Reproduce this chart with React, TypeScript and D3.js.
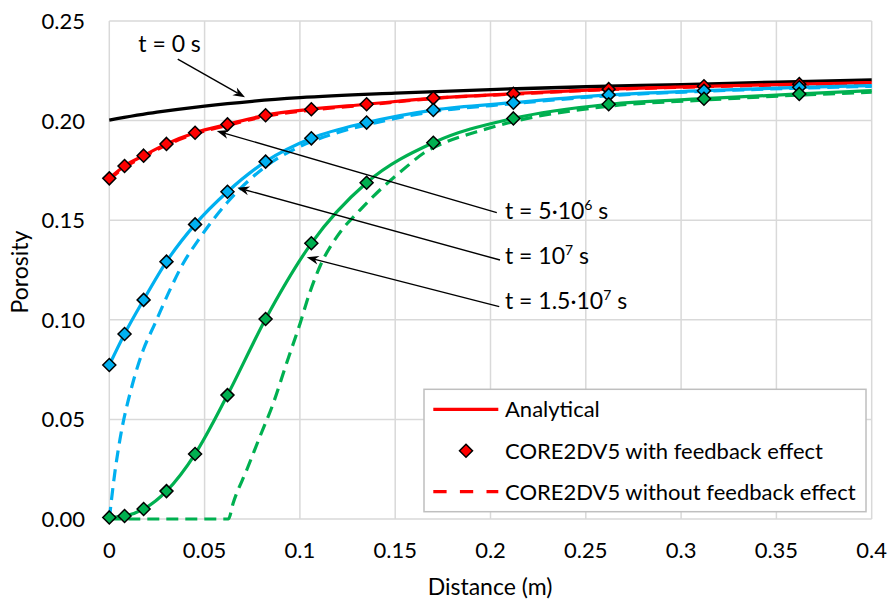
import React from 'react';
import * as d3 from 'd3';

const W = 889;
const H = 606;

const xTicks = [0, 0.05, 0.1, 0.15, 0.2, 0.25, 0.3, 0.35, 0.4];
const yTicks = [0, 0.05, 0.1, 0.15, 0.2, 0.25];

// t = 0 s initial porosity profile
const initX = [0, 0.025, 0.05, 0.075, 0.1, 0.15, 0.2, 0.25, 0.3, 0.35, 0.4];
const initY = [0.2003, 0.2042, 0.2073, 0.2097, 0.2115, 0.2138, 0.2156, 0.217, 0.2181, 0.2193, 0.2204];

// CORE2DV5 with feedback effect (markers) and analytical (solid lines)
const simX = [0, 0.008, 0.018, 0.03, 0.045, 0.062, 0.082, 0.106, 0.135, 0.17, 0.212, 0.262, 0.312, 0.362];
const redSim = [0.171, 0.1772, 0.1824, 0.1883, 0.1939, 0.1981, 0.2027, 0.2057, 0.2082, 0.2113, 0.2135, 0.2158, 0.2172, 0.2183];
const blueSim = [0.0773, 0.0929, 0.11, 0.1292, 0.1479, 0.1643, 0.1794, 0.1911, 0.199, 0.2053, 0.209, 0.2129, 0.215, 0.2167];
const greenSim = [0.0008, 0.0015, 0.005, 0.014, 0.0326, 0.0622, 0.1004, 0.1384, 0.1688, 0.1889, 0.2011, 0.2082, 0.211, 0.2134];

const anaX = [...simX, 0.4];
const redAna = [...redSim, 0.2191];
const blueAna = [...blueSim, 0.2176];
const greenAna = [...greenSim, 0.215];

// CORE2DV5 without feedback effect (dashed)
const redNoFbX = [0, 0.008, 0.018, 0.03, 0.045, 0.062, 0.082, 0.106, 0.135, 0.17, 0.212, 0.262, 0.312, 0.362, 0.4];
const redNoFbY = [0.1705, 0.1766, 0.1818, 0.1877, 0.1933, 0.1976, 0.2022, 0.2053, 0.2079, 0.2111, 0.2133, 0.2156, 0.217, 0.2181, 0.2189];
const blueNoFbX = [0, 0.003, 0.0056, 0.0118, 0.0178, 0.024, 0.0318, 0.0388, 0.0467, 0.062, 0.08, 0.1, 0.12, 0.14, 0.17, 0.212, 0.262, 0.312, 0.362, 0.4];
const blueNoFbY = [0, 0.024, 0.04, 0.0664, 0.0848, 0.0982, 0.115, 0.1284, 0.14, 0.159, 0.1755, 0.187, 0.194, 0.199, 0.2045, 0.2085, 0.2125, 0.2147, 0.2163, 0.2172];
const greenNoFbX = [0, 0.0625, 0.065, 0.0721, 0.079, 0.086, 0.093, 0.1001, 0.1053, 0.1106, 0.12, 0.1315, 0.1438, 0.156, 0.1648, 0.177, 0.1928, 0.212, 0.262, 0.312, 0.362, 0.4];
const greenNoFbY = [0, 0, 0.008, 0.0246, 0.0413, 0.058, 0.0782, 0.0982, 0.114, 0.127, 0.1425, 0.1551, 0.1668, 0.1769, 0.1836, 0.1894, 0.1944, 0.1995, 0.2072, 0.2103, 0.2128, 0.2143];

const legendLabels = ['Analytical', 'CORE2DV5 with feedback effect', 'CORE2DV5 without feedback effect'];

const RED = '#FF0000';
const BLUE = '#00B0F0';
const GREEN = '#00B050';
const GRID = '#D9D9D9';
const FONT = 'Lato, Carlito, Calibri, sans-serif';
const FS = 22;

const x = d3.scaleLinear().domain([0, 0.4]).range([109.3, 871.7]);
const y = d3.scaleLinear().domain([0, 0.25]).range([519, 21]);

const zip = (xs: number[], ys: number[]) => xs.map((v, i) => [v, ys[i]] as [number, number]);

const line = d3
  .line<[number, number]>()
  .x((d) => x(d[0]))
  .y((d) => y(d[1]))
  .curve(d3.curveMonotoneX);

// annotations in data coordinates: tail, tip, label anchor
type Ann = { tail: [number, number]; tip: [number, number]; label: [number, number]; pre: string; sup?: string; post?: string };
const annotations: Ann[] = [
  { tail: [0.0359, 0.2309], tip: [0.0712, 0.2117], label: [0.0152, 0.2346], pre: 't = 0 s' },
  { tail: [0.2033, 0.1538], tip: [0.0564, 0.1948], label: [0.2076, 0.1505], pre: 't = 5·10', sup: '6', post: ' s' },
  { tail: [0.205, 0.13], tip: [0.0672, 0.1663], label: [0.2076, 0.128], pre: 't = 10', sup: '7', post: ' s' },
  { tail: [0.2046, 0.1066], tip: [0.1036, 0.1314], label: [0.2076, 0.1053], pre: 't = 1.5·10', sup: '7', post: ' s' },
];

const diamond = (cx: number, cy: number, r: number) =>
  `M${cx},${cy - r}L${cx + r},${cy}L${cx},${cy + r}L${cx - r},${cy}Z`;

function Arrow({ a }: { a: Ann }) {
  const x1 = x(a.tail[0]);
  const y1 = y(a.tail[1]);
  const x2 = x(a.tip[0]);
  const y2 = y(a.tip[1]);
  const ang = Math.atan2(y2 - y1, x2 - x1);
  const L = 12;
  const Wd = 4.5;
  const bx = x2 - L * Math.cos(ang);
  const by = y2 - L * Math.sin(ang);
  const nx = -Math.sin(ang);
  const ny = Math.cos(ang);
  const ix = x2 - 0.7 * L * Math.cos(ang);
  const iy = y2 - 0.7 * L * Math.sin(ang);
  const head = `M${x2},${y2}L${bx + nx * Wd},${by + ny * Wd}L${ix},${iy}L${bx - nx * Wd},${by - ny * Wd}Z`;
  return (
    <g>
      <line x1={x1} y1={y1} x2={ix} y2={iy} stroke="#000" strokeWidth={1.4} />
      <path d={head} fill="#000" />
    </g>
  );
}

export default function App() {
  const series = [
    { color: RED, ana: zip(anaX, redAna), sim: zip(simX, redSim), nofb: zip(redNoFbX, redNoFbY) },
    { color: BLUE, ana: zip(anaX, blueAna), sim: zip(simX, blueSim), nofb: zip(blueNoFbX, blueNoFbY) },
    { color: GREEN, ana: zip(anaX, greenAna), sim: zip(simX, greenSim), nofb: zip(greenNoFbX, greenNoFbY) },
  ];
  const [x0, x1] = x.range();
  const [y0, y1] = y.range();
  const dash = '12 7';
  const legendRowY = [409.3, 450.7, 491.7];

  return (
    <svg
      width={W}
      height={H}
      style={{ position: 'absolute', left: 0, top: 0, background: '#fff' }}
      fontFamily={FONT}
    >
      <rect width={W} height={H} fill="#fff" />
      {/* grid */}
      {xTicks.map((t) => (
        <line key={'gx' + t} x1={x(t)} x2={x(t)} y1={y1} y2={y0} stroke={GRID} strokeWidth={1.5} />
      ))}
      {yTicks.map((t) => (
        <line key={'gy' + t} x1={x0} x2={x1} y1={y(t)} y2={y(t)} stroke={GRID} strokeWidth={1.5} />
      ))}
      {/* tick labels */}
      {yTicks.map((t) => (
        <text key={'ty' + t} x={85} y={y(t)} dy="0.36em" textAnchor="end" fontSize={FS} fill="#000">
          {d3.format('.2f')(t)}
        </text>
      ))}
      {xTicks.map((t) => (
        <text key={'tx' + t} x={x(t)} y={558} textAnchor="middle" fontSize={FS} fill="#000">
          {String(t)}
        </text>
      ))}
      {/* axis titles */}
      <text x={490} y={595} textAnchor="middle" fontSize={FS + 1} fill="#000">
        Distance (m)
      </text>
      <text transform="translate(28,272) rotate(-90)" textAnchor="middle" fontSize={FS + 1} fill="#000">
        Porosity
      </text>

      {/* t = 0 */}
      <path d={line(zip(initX, initY)) || ''} fill="none" stroke="#000" strokeWidth={3.3} />
      {/* analytical and dashed */}
      {series.map((s, i) => (
        <g key={'l' + i}>
          <path d={line(s.nofb) || ''} fill="none" stroke={s.color} strokeWidth={3.2} strokeDasharray={dash} />
          <path d={line(s.ana) || ''} fill="none" stroke={s.color} strokeWidth={3.2} />
        </g>
      ))}
      {/* markers */}
      {series.map((s, i) => (
        <g key={'m' + i}>
          {s.sim.map((d, j) => (
            <path key={j} d={diamond(x(d[0]), y(d[1]), 6.5)} fill={s.color} stroke="#000" strokeWidth={1.5} />
          ))}
        </g>
      ))}

      {/* annotations */}
      {annotations.map((a, i) => (
        <g key={'a' + i}>
          <Arrow a={a} />
          <text x={x(a.label[0])} y={y(a.label[1])} fontSize={FS + 1} fill="#000">
            {a.pre}
            {a.sup ? (
              <tspan fontSize={14} dy={-9}>
                {a.sup}
              </tspan>
            ) : null}
            {a.post ? <tspan dy={a.sup ? 9 : 0}>{a.post}</tspan> : null}
          </text>
        </g>
      ))}

      {/* legend */}
      <rect x={424} y={389.3} width={442} height={122.4} fill="#fff" stroke="#BFBFBF" strokeWidth={1.5} />
      <line x1={433.3} x2={498.3} y1={legendRowY[0]} y2={legendRowY[0]} stroke={RED} strokeWidth={3.2} />
      <path d={diamond(466, legendRowY[1], 6.5)} fill={RED} stroke="#000" strokeWidth={1.5} />
      <line x1={433.3} x2={498.3} y1={legendRowY[2]} y2={legendRowY[2]} stroke={RED} strokeWidth={3.2} strokeDasharray="13.3 13.3" />
      {legendLabels.map((l, i) => (
        <text key={l} x={505} y={legendRowY[i]} dy="0.36em" fontSize={FS} fill="#000">
          {l}
        </text>
      ))}
    </svg>
  );
}
